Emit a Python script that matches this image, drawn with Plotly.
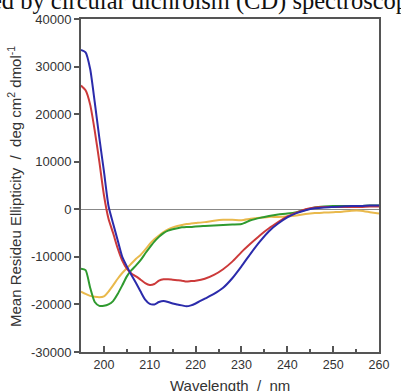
import plotly.graph_objects as go

wavelength = [195, 196, 197, 198, 199, 200, 201, 202, 203, 204, 205, 206, 207, 208, 209, 210,
              211, 212, 213, 214, 215, 216, 217, 218, 219, 220, 222, 224, 226, 228, 230, 232,
              234, 236, 238, 240, 242, 244, 246, 248, 250, 252, 254, 256, 258, 260]

blue = [33500, 33000, 29500, 22500, 15000, 8000, 700, -3000, -6500, -10000, -12000, -13800,
        -15500, -17300, -19000, -19900, -20000, -19500, -19300, -19500, -19800, -20000, -20200,
        -20400, -20200, -19800, -18800, -17800, -16500, -14500, -12000, -9300, -6800, -4600,
        -3000, -1700, -800, -200, 200, 400, 500, 600, 700, 700, 800, 800]

red = [26000, 25000, 22000, 16500, 10000, 3000, -2000, -5000, -8200, -10800, -12500, -13500,
       -14100, -14800, -15500, -15900, -15700, -15000, -14700, -14700, -14800, -14900, -15000,
       -15200, -15100, -15000, -14600, -13800, -12600, -11000, -9000, -7200, -5500, -4000,
       -2700, -1500, -700, 0, 400, 500, 500, 500, 500, 500, 600, 600]

green = [-12500, -12800, -16500, -19500, -20300, -20300, -20000, -19300, -17800, -16000, -14100,
         -12800, -11800, -10700, -9300, -8000, -6800, -5800, -5000, -4500, -4200, -4000, -3800,
         -3700, -3700, -3600, -3500, -3400, -3300, -3200, -3100, -2300, -1800, -1400, -1100,
         -900, -600, -100, 400, 600, 700, 700, 700, 700, 800, 800]

yellow = [-17300, -17800, -18200, -18400, -18500, -18300, -17300, -16000, -14600, -13400,
          -12400, -11400, -10400, -9600, -8500, -7300, -6300, -5500, -4800, -4200, -3800, -3500,
          -3300, -3100, -3000, -2900, -2700, -2400, -2200, -2200, -2300, -2000, -1800, -1600,
          -1600, -1500, -1300, -1000, -800, -700, -600, -500, -300, -300, -600, -900]

x_ticks = [200, 210, 220, 230, 240, 250, 260]
y_ticks = [-30000, -20000, -10000, 0, 10000, 20000, 30000, 40000]

series = [
    ("yellow", yellow, "#e9b94c"),
    ("green", green, "#2f9a2f"),
    ("red", red, "#cc3a3a"),
    ("blue", blue, "#2b2bab"),
]

fig = go.Figure()
for name, vals, col in series:
    fig.add_trace(go.Scatter(x=wavelength, y=vals, mode="lines", name=name,
                             line=dict(color=col, width=2, shape="spline", smoothing=0.6),
                             showlegend=False))

L, R, T, B = 81, 13, 17, 39
W, H = 401, 391
pw, ph = W - L - R, H - T - B

def px(xp):
    return (xp - L) / pw

def py(yp):
    return (H - B - yp) / ph

fig.update_layout(
    width=W, height=H,
    margin=dict(l=L, r=R, t=T, b=B),
    paper_bgcolor="white", plot_bgcolor="white",
    font=dict(family="Liberation Sans, Arial, sans-serif", color="#333333"),
    xaxis=dict(range=[195, 260], tickvals=x_ticks, ticktext=[str(v) for v in x_ticks],
               ticks="inside", ticklen=6, tickwidth=1.5, tickcolor="#555555",
               minor=dict(dtick=5, tick0=195, ticks="inside", ticklen=3, tickwidth=1.5, tickcolor="#555555"),
               showline=True, linecolor="#555555", linewidth=2, mirror=True,
               showgrid=False, zeroline=False, tickfont=dict(size=12.5, color="#333333")),
    yaxis=dict(range=[-30000, 40000], tickvals=y_ticks, ticktext=[str(v) for v in y_ticks],
               ticks="outside", ticklen=5, tickwidth=1.5, tickcolor="#555555",
               showline=True, linecolor="#555555", linewidth=2, mirror=True,
               showgrid=False, zeroline=True, zerolinecolor="#888888", zerolinewidth=1,
               tickfont=dict(size=13, color="#333333")),
    annotations=[
        dict(text="Mean Resideu Ellipticity  /  deg cm<sup>2</sup> dmol<sup>-1</sup>",
             xref="paper", yref="paper", x=px(13), y=py(185), xanchor="center", yanchor="middle",
             textangle=-90, showarrow=False, font=dict(size=15, color="#333333")),
        dict(text="Wavelength  /  nm", xref="paper", yref="paper", x=px(235), y=py(386),
             xanchor="center", yanchor="middle", showarrow=False,
             font=dict(size=15, color="#333333")),
        dict(text="ed by circular dichroism (CD) spectroscopy", xref="paper", yref="paper",
             x=px(-14), y=py(-1), xanchor="left", yanchor="middle", showarrow=False,
             font=dict(family="Liberation Serif, Times New Roman, serif", size=24.5, color="#111111")),
    ],
)

fig.write_html("out.html", config={"displayModeBar": False},
               post_script="document.body.style.margin='0';document.body.style.overflow='hidden';")
